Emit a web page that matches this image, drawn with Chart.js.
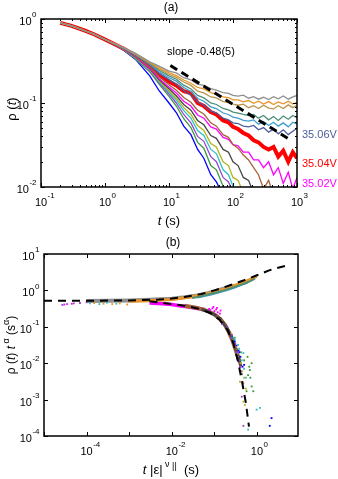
<!DOCTYPE html>
<html>
<head>
<meta charset="utf-8">
<script src="https://cdn.jsdelivr.net/npm/chart.js@4.4.1/dist/chart.umd.min.js"></script>
<style>
  body { margin: 0; background: #fff; }
  .panel { position: absolute; left: 0; width: 338px; }
</style>
</head>
<body>
<div class="panel" style="top:0;height:230px"><canvas id="decayChart"></canvas></div>
<div class="panel" style="top:230px;height:249px"><canvas id="collapseChart"></canvas></div>
<script>
// ---- panel (a): rho(t) for each voltage, shared time grid ----
const T = [0.2, 0.3, 0.5, 0.7, 1, 1.5, 2, 3, 5, 7, 10, 13, 17, 22, 28, 35, 45, 55, 70, 85,
           100, 120, 145, 175, 210, 250, 300, 360, 430, 510, 610, 730, 860, 1000];

const rhoGray = [0.9,0.83,0.72,0.65,0.57,0.5,0.45,0.39,0.31,0.275, 0.24,0.228,0.2,0.188,0.168,0.162,0.148,0.142,0.133,0.13,
                 0.123,0.121,0.124,0.114,0.119,0.111,0.117,0.11,0.119,0.112, 0.121,0.111,0.118,0.123];
const rhoOrange = [0.9,0.83,0.72,0.65,0.57,0.5,0.45,0.385,0.305,0.265, 0.23,0.212,0.188,0.172,0.153,0.147,0.133,0.127,0.118,0.116,
                   0.109,0.109,0.103,0.107,0.099,0.105,0.097,0.104,0.096,0.103, 0.098,0.105,0.097,0.102];
const rhoTan = [0.9,0.83,0.72,0.65,0.57,0.5,0.45,0.38,0.3,0.255, 0.22,0.202,0.178,0.162,0.138,0.132,0.118,0.115,0.104,0.101,
                0.097,0.094,0.097,0.088,0.093,0.086,0.094,0.087,0.085,0.093, 0.086,0.095,0.088,0.094];
const rhoTeal = [0.9,0.83,0.72,0.65,0.57,0.5,0.445,0.38,0.295,0.245, 0.21,0.192,0.163,0.147,0.123,0.115,0.1,0.096,0.086,0.083,
                 0.078,0.076,0.073,0.071,0.073,0.066,0.071,0.063,0.069,0.062, 0.07,0.064,0.071,0.067];
const rhoSky = [0.9,0.83,0.72,0.65,0.57,0.49,0.445,0.375,0.29,0.235, 0.2,0.182,0.153,0.137,0.113,0.105,0.09,0.086,0.076,0.073,
                0.068,0.066,0.062,0.061,0.063,0.056,0.06,0.054,0.059,0.053, 0.058,0.052,0.059,0.056];
const rho3506 = [0.9,0.83,0.72,0.65,0.57,0.49,0.44,0.37,0.285,0.225, 0.19,0.167,0.14,0.124,0.103,0.094,0.08,0.076,0.066,0.063,
                 0.058,0.057,0.053,0.052,0.054,0.048,0.051,0.045,0.049,0.043, 0.048,0.042,0.046,0.05];
const rho3504 = [0.9,0.83,0.72,0.65,0.57,0.49,0.44,0.365,0.275,0.215, 0.18,0.162,0.138,0.131,0.1,0.092,0.078,0.073,0.062,0.059,
                 0.052,0.049,0.044,0.041,0.036,0.034,0.03,0.028,0.03,0.023, 0.027,0.02,0.026,0.022];
const rhoBrown = [0.9,0.83,0.72,0.65,0.57,0.49,0.44,0.36,0.27,0.205, 0.165,0.142,0.116,0.102,0.082,0.074,0.058,0.053,0.042,0.039,
                  0.032,0.029,0.024,0.021,0.017,0.014,0.0095,0.012,0.008];
const rho3502 = [0.9,0.83,0.72,0.65,0.57,0.49,0.435,0.355,0.26,0.195, 0.155,0.132,0.105,0.092,0.072,0.066,0.052,0.049,0.039,0.037,
                 0.032,0.031,0.026,0.026,0.021,0.021,0.017,0.02,0.014,0.017, 0.011,0.015,0.0095,0.013];
const rhoDark = [0.9,0.83,0.72,0.65,0.57,0.49,0.435,0.35,0.255,0.19, 0.148,0.122,0.096,0.082,0.062,0.055,0.041,0.038,0.028,0.026,
                 0.02,0.018,0.013,0.012,0.0085];
const rhoOlive = [0.9,0.83,0.72,0.65,0.57,0.49,0.43,0.345,0.25,0.185, 0.14,0.114,0.088,0.073,0.054,0.047,0.033,0.03,0.02,0.018,
                  0.013,0.012,0.0085];
const rhoCyan = [0.9,0.83,0.72,0.65,0.57,0.49,0.43,0.34,0.245,0.18, 0.135,0.108,0.081,0.066,0.047,0.041,0.028,0.025,0.016,0.014,
                 0.0102,0.008];
const rhoViolet = [0.9,0.83,0.72,0.65,0.57,0.49,0.43,0.34,0.24,0.175, 0.128,0.1,0.073,0.058,0.04,0.035,0.023,0.02,0.013,0.0115,
                   0.0085];
const rhoGreen = [0.9,0.83,0.72,0.65,0.57,0.49,0.425,0.335,0.235,0.168, 0.12,0.092,0.065,0.051,0.034,0.029,0.018,0.016,0.0102,0.008];
const rhoBlue = [0.9,0.83,0.72,0.65,0.57,0.485,0.42,0.33,0.21,0.14, 0.1,0.077,0.053,0.042,0.028,0.022,0.014,0.0115,0.008];

// guide line with slope -0.48
const slopeT = [10.5, 720];
const slopeRho = [0.28, 0.038];

// ---- panel (b): scaled data ----
const upperFitX = [1e-5, 1e-4, 1e-3, 5e-3, 1e-2, 2e-2, 5e-2, 0.1, 0.2, 0.5, 1, 2, 5.5];
const upperFitY = [0.52, 0.52, 0.53, 0.56, 0.6, 0.66, 0.8, 1.0, 1.3, 1.9, 2.6, 3.6, 5.0];
const lowerFitX = [3e-3, 0.01, 0.02, 0.04, 0.08, 0.13, 0.2, 0.28, 0.36, 0.45, 0.55, 0.65];
const lowerFitY = [0.5, 0.42, 0.38, 0.32, 0.24, 0.16, 0.085, 0.035, 0.011, 0.003, 0.0008, 0.00018];

const upGrayX = [1e-4, 3e-4, 1e-3, 3e-3, 1e-2, 2e-2, 4e-2, 0.07, 0.1, 0.15, 0.2, 0.3];
const upGrayY = [0.51, 0.52, 0.53, 0.55, 0.59, 0.65, 0.73, 0.84, 0.94, 1.08, 1.18, 1.35];
const upOrangeX = [1e-3, 3e-3, 1e-2, 3e-2, 0.06, 0.1, 0.2, 0.3, 0.5, 0.8, 1.0];
const upOrangeY = [0.5, 0.52, 0.56, 0.67, 0.78, 0.9, 1.17, 1.38, 1.72, 2.15, 2.45];
const upTealX = [0.03, 0.05, 0.07, 0.1, 0.13, 0.17, 0.22, 0.3, 0.4, 0.55, 0.7, 0.9];
const upTealY = [0.62, 0.69, 0.77, 0.85, 0.92, 1.0, 1.1, 1.24, 1.4, 1.6, 1.8, 2.1];
const upSkyX = [0.04, 0.08, 0.12, 0.2, 0.28, 0.45, 0.6];
const upSkyY = [0.63, 0.75, 0.85, 1.0, 1.14, 1.42, 1.6];

const loMagentaX = [3e-3, 6e-3, 1e-2, 1.5e-2, 2.5e-2, 4e-2, 6e-2];
const loMagentaY = [0.45, 0.43, 0.41, 0.38, 0.35, 0.32, 0.3];
const loBrownX = [0.02, 0.04, 0.07, 0.1, 0.14, 0.18, 0.22, 0.27, 0.32, 0.38];
const loBrownY = [0.38, 0.33, 0.27, 0.22, 0.16, 0.11, 0.07, 0.04, 0.022, 0.012];
const loDarkX = [0.05, 0.08, 0.12, 0.16, 0.2, 0.25, 0.3, 0.35, 0.42];
const loDarkY = [0.3, 0.25, 0.19, 0.13, 0.09, 0.055, 0.032, 0.018, 0.008];

const dotViolet = { x: [2.7e-5, 3.5e-5, 5e-5, 7e-5, 1e-4, 0.15, 0.2, 0.25, 0.26, 0.31, 0.33, 0.36, 0.38, 0.41, 0.42, 0.48, 0.44],
                    y: [0.4, 0.42, 0.44, 0.45, 0.47, 0.12, 0.1, 0.05, 0.06, 0.035, 0.02, 0.02, 0.012, 0.008, 0.006, 1.9e-4, 0.0012] };
const dotMagenta = { x: [3e-5, 4.5e-5, 0.075, 0.08, 0.09, 0.095, 0.1, 0.11, 0.115, 0.12, 0.135, 0.14, 0.3, 0.4, 0.46],
                     y: [0.41, 0.43, 0.31, 0.29, 0.32, 0.35, 0.27, 0.3, 0.33, 0.25, 0.23, 0.28, 0.03, 0.008, 0.003] };
const dotCyan = { x: [1.2e-4, 2e-4, 3e-4, 5e-4, 0.2, 0.28, 0.3, 0.36, 0.38, 0.44, 0.48, 0.5, 0.55, 0.98, 1.18, 0.62],
                  y: [0.44, 0.42, 0.46, 0.43, 0.09, 0.05, 0.045, 0.032, 0.025, 0.012, 0.019, 0.007, 0.004, 5.3e-4, 5.9e-4, 1.5e-4] };
const dotOrange = { x: [1.5e-4, 2.5e-4, 4e-4, 6e-4, 9e-4, 0.25, 0.32],
                    y: [0.45, 0.43, 0.42, 0.44, 0.41, 0.065, 0.028] };
const dotGreen = { x: [0.3, 0.42, 0.5, 0.6, 0.62, 0.66, 0.68, 0.7, 0.75, 0.57, 0.82, 0.75],
                   y: [0.05, 0.02, 0.012, 0.015, 0.0047, 0.008, 0.0065, 0.004, 0.01, 0.0017, 0.0017, 0.0023] };
const dotBlue = { x: [0.22, 0.3, 0.33, 0.37, 0.38, 0.41, 0.46, 0.5, 2.0, 2.2],
                  y: [0.07, 0.04, 0.03, 0.022, 0.02, 0.015, 0.008, 0.009, 1.9e-4, 3.1e-4] };
const dotOlive = { x: [0.3, 0.35, 0.4, 0.42, 0.48, 0.48, 0.5, 0.52, 0.45, 0.55],
                   y: [0.03, 0.018, 0.0031, 0.01, 0.0028, 8.8e-4, 0.004, 7.1e-4, 0.006, 0.002] };
const dotDark = { x: [0.14, 0.17, 0.19, 0.21, 0.24, 0.26, 0.29, 0.31, 0.34, 0.37, 0.4, 0.44],
                  y: [0.17, 0.12, 0.1, 0.085, 0.06, 0.05, 0.035, 0.028, 0.02, 0.014, 0.009, 0.005] };
const dotBrown = { x: [0.12, 0.15, 0.18, 0.2, 0.23, 0.27, 0.3, 0.33, 0.36, 0.39],
                   y: [0.2, 0.15, 0.12, 0.09, 0.07, 0.045, 0.03, 0.024, 0.015, 0.01] };

// tick exponents
const aXExp = [-1, 0, 1, 2, 3];
const aYExp = [-2, -1, 0];
const bXExp = [-4, -2, 0];
const bYExp = [-4, -3, -2, -1, 0, 1];

const SANS = '"Liberation Sans", Arial, Helvetica, sans-serif';

const pts = (xs, ys) => ys.map((v, i) => ({ x: xs[i], y: v }));

function fontFor(kind, size) {
  if (kind === 'i') return `italic ${size}px ${SANS}`;
  if (kind === 'sup' || kind === 'sup2') return `${Math.round(size * 0.72)}px ${SANS}`;
  return `${size}px ${SANS}`;
}

// text made of runs: normal, italic, superscript
function drawRuns(ctx, runs, cx, cy, size) {
  let w = 0;
  for (const [s, k] of runs) { ctx.font = fontFor(k, size); w += ctx.measureText(s).width; }
  let x = cx - w / 2;
  ctx.textAlign = 'left';
  ctx.textBaseline = 'middle';
  for (const [s, k] of runs) {
    ctx.font = fontFor(k, size);
    const dy = k === 'sup' ? -size * 0.45 : (k === 'sup2' ? -size * 0.3 : 0);
    ctx.fillText(s, x, cy + dy);
    x += ctx.measureText(s).width;
  }
}

// "10" with exponent; mode 'x' centres the 10 on px, mode 'y' right-aligns at px
function powLabel(ctx, exp, px, py, mode) {
  ctx.font = `11px ${SANS}`;
  const wb = ctx.measureText('10').width;
  ctx.font = `8px ${SANS}`;
  const we = ctx.measureText(String(exp)).width;
  const x0 = mode === 'x' ? px - wb / 2 : px - wb - we;
  ctx.textAlign = 'left';
  ctx.textBaseline = 'middle';
  ctx.font = `11px ${SANS}`;
  ctx.fillText('10', x0, py);
  ctx.font = `8px ${SANS}`;
  ctx.fillText(String(exp), x0 + wb + 0.5, py - 7);
}

function logTicks(min, max, minor) {
  const out = [];
  for (let e = Math.floor(Math.log10(min)); e <= Math.ceil(Math.log10(max)); e++) {
    for (let k = 1; k <= 9; k++) {
      if (k > 1 && !minor) break;
      const v = k * Math.pow(10, e);
      if (v >= min * 0.999 && v <= max * 1.001) out.push({ v, major: k === 1 });
    }
  }
  return out;
}

const framePlugin = {
  id: 'frame',
  afterDatasetsDraw(chart, args, o) {
    const { ctx, chartArea: a } = chart;
    const sx = chart.scales.x, sy = chart.scales.y;
    ctx.save();
    ctx.strokeStyle = '#000';
    ctx.lineWidth = 1;
    ctx.beginPath();
    for (const t of logTicks(sx.min, sx.max, o.minorX)) {
      const p = Math.round(sx.getPixelForValue(t.v)) + 0.5;
      const len = t.major ? 4 : 2;
      ctx.moveTo(p, a.bottom); ctx.lineTo(p, a.bottom - len);
      ctx.moveTo(p, a.top); ctx.lineTo(p, a.top + len);
    }
    for (const t of logTicks(sy.min, sy.max, o.minorY)) {
      const p = Math.round(sy.getPixelForValue(t.v)) + 0.5;
      const len = t.major ? 4 : 2;
      ctx.moveTo(a.left, p); ctx.lineTo(a.left + len, p);
      ctx.moveTo(a.right, p); ctx.lineTo(a.right - len, p);
    }
    ctx.stroke();
    ctx.lineWidth = 1.5;
    ctx.strokeRect(a.left, a.top, a.right - a.left, a.bottom - a.top);

    ctx.fillStyle = '#000';
    for (const e of o.xExp) powLabel(ctx, e, sx.getPixelForValue(Math.pow(10, e)), a.bottom + 16, 'x');
    for (const e of o.yExp) powLabel(ctx, e, a.left - 5, sy.getPixelForValue(Math.pow(10, e)) + 3, 'y');

    drawRuns(ctx, o.panel, (a.left + a.right) / 2 + 2, a.top - 11, 12);
    drawRuns(ctx, o.xTitle, (a.left + a.right) / 2, a.bottom + 34, 13);
    ctx.save();
    ctx.translate(12, (a.top + a.bottom) / 2 + o.yTitleShift);
    ctx.rotate(-Math.PI / 2);
    drawRuns(ctx, o.yTitle, 0, 0, o.yTitleSize);
    ctx.restore();

    for (const n of o.notes || []) {
      ctx.fillStyle = n.color;
      ctx.font = `11px ${SANS}`;
      ctx.textAlign = 'left';
      ctx.textBaseline = 'middle';
      const px = n.x === 'right' ? a.right + 5 : sx.getPixelForValue(n.x);
      ctx.fillText(n.text, px, sy.getPixelForValue(n.y));
    }
    ctx.restore();
  }
};

const C = {
  gray: '#8f8f8f', orange: '#e8952a', tan: '#b8954c', teal: '#4f8f76', sky: '#3d9dd0',
  slate: '#4d5a9c', red: '#ff0000', brown: '#a5623a', magenta: '#ff00ff', dark: '#454545',
  olive: '#b5b31e', cyan: '#2cc3c8', violet: '#9548d6', green: '#3c9a3c', blue: '#0000ff'
};

function curve(vals, color, width) {
  return { data: pts(T, vals), borderColor: color, borderWidth: width || 1.3,
           pointRadius: 0, tension: 0, fill: false };
}

const logAxis = (min, max) => ({ type: 'logarithmic', min, max, display: false });

// first dataset is painted last (on top)
new Chart(document.getElementById('decayChart'), {
  type: 'line',
  data: {
    datasets: [
      { data: pts(slopeT, slopeRho), borderColor: '#000', borderWidth: 3, borderDash: [8, 5],
        pointRadius: 0, fill: false },
      curve(rhoGray, C.gray), curve(rhoOrange, C.orange), curve(rhoTan, C.tan),
      curve(rhoTeal, C.teal), curve(rhoSky, C.sky), curve(rho3506, C.slate),
      curve(rhoBrown, C.brown), curve(rho3502, C.magenta), curve(rhoDark, C.dark),
      curve(rhoOlive, C.olive), curve(rhoCyan, C.cyan), curve(rhoViolet, C.violet),
      curve(rhoGreen, C.green), curve(rho3504, C.red, 4), curve(rhoBlue, C.blue)
    ]
  },
  options: {
    responsive: true,
    maintainAspectRatio: false,
    animation: false,
    layout: { padding: { left: 41, top: 19, right: 41, bottom: 43 } },
    scales: { x: logAxis(0.1, 1000), y: logAxis(0.01, 1) },
    plugins: {
      legend: { display: false },
      tooltip: { enabled: false },
      frame: {
        minorX: true, minorY: true, xExp: aXExp, yExp: aYExp,
        panel: [['(a)', 'n']],
        xTitle: [['t', 'i'], [' (s)', 'n']],
        yTitle: [['\u03c1 (', 'n'], ['t', 'i'], [')', 'n']],
        yTitleSize: 13, yTitleShift: 6,
        notes: [
          { text: 'slope -0.48(5)', color: '#000', x: 9.3, y: 0.4 },
          { text: '35.06V', color: C.slate, x: 'right', y: 0.042 },
          { text: '35.04V', color: C.red, x: 'right', y: 0.019 },
          { text: '35.02V', color: C.magenta, x: 'right', y: 0.011 }
        ]
      }
    }
  },
  plugins: [framePlugin]
});

function band(xs, ys, color, width) {
  return { data: pts(xs, ys), showLine: true, borderColor: color, borderWidth: width,
           pointRadius: 0, tension: 0 };
}
function dots(set, color) {
  return { data: pts(set.x, set.y), showLine: false, pointStyle: 'rect', pointRadius: 1.3,
           borderWidth: 0, backgroundColor: color };
}

new Chart(document.getElementById('collapseChart'), {
  type: 'scatter',
  data: {
    datasets: [
      { data: pts(upperFitX, upperFitY), showLine: true, borderColor: '#000', borderWidth: 2,
        borderDash: [8, 6], pointRadius: 0 },
      { data: pts(lowerFitX, lowerFitY), showLine: true, borderColor: '#000', borderWidth: 2,
        borderDash: [8, 6], pointRadius: 0 },
      dots(dotViolet, C.violet), dots(dotMagenta, C.magenta), dots(dotCyan, C.cyan),
      dots(dotOrange, C.orange), dots(dotGreen, C.green), dots(dotBlue, C.blue), dots(dotOlive, C.olive),
      dots(dotDark, C.dark), dots(dotBrown, C.brown),
      band(upTealX, upTealY, C.teal, 2), band(upSkyX, upSkyY, C.sky, 1.5),
      band(upOrangeX, upOrangeY, C.orange, 3), band(upGrayX, upGrayY, C.gray, 4),
      band(loDarkX, loDarkY, C.dark, 3), band(loBrownX, loBrownY, C.brown, 4),
      band(loMagentaX, loMagentaY, C.magenta, 3.5)
    ]
  },
  options: {
    responsive: true,
    maintainAspectRatio: false,
    animation: false,
    layout: { padding: { left: 44, top: 24, right: 40, bottom: 43 } },
    scales: { x: logAxis(1e-5, 9.2), y: logAxis(1e-4, 10) },
    plugins: {
      legend: { display: false },
      tooltip: { enabled: false },
      frame: {
        minorX: false, minorY: false, xExp: bXExp, yExp: bYExp,
        panel: [['(b)', 'n']],
        xTitle: [['t', 'i'], [' |\u03b5|', 'n'], [' \u03bd', 'sup'], [' ||', 'sup2'], ['  (s)', 'n']],
        yTitle: [['\u03c1 (', 'n'], ['t', 'i'], [') ', 'n'], ['t', 'i'], [' \u03b1', 'sup'],
                 [' (s', 'n'], ['\u03b1', 'sup'], [')', 'n']],
        yTitleSize: 12, yTitleShift: 0
      }
    }
  },
  plugins: [framePlugin]
});
</script>
</body>
</html>
